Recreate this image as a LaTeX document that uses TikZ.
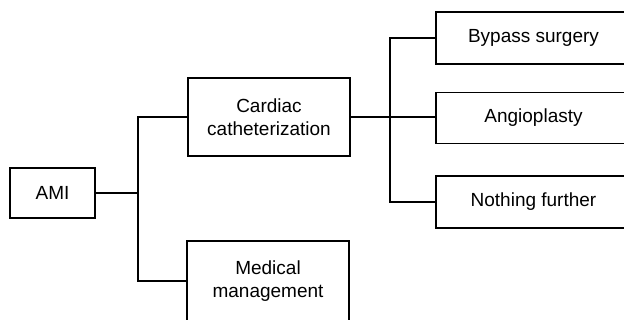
\documentclass[tikz,border=0pt]{standalone}
\usepackage{fontspec}
\setmainfont{Liberation Sans}
\begin{document}
\begin{tikzpicture}[x=1pt,y=-1pt,
  box/.style={draw=black,line width=1.8pt,inner sep=0pt,align=center,
    font=\fontsize{19}{23}\selectfont},
  conn/.style={draw=black,line width=2.6pt},
  thinconn/.style={draw=black,line width=1.5pt}]
\useasboundingbox (0,0) rectangle (624,320);
\node[box,minimum width=85pt,minimum height=50pt] (ami) at (52.5,193) {AMI};
\node[box,minimum width=162pt,minimum height=78pt] (cc) at (269,117) {Cardiac\\catheterization};
\node[box,minimum width=162pt,minimum height=80pt] (mm) at (268,281) {Medical\\management};
\node[box,minimum width=195pt,minimum height=52pt] (bs) at (533.5,38) {Bypass surgery};
\node[box,minimum width=195pt,minimum height=51pt] (an) at (533.5,118) {Angioplasty};
\node[box,minimum width=195pt,minimum height=52pt] (nf) at (533.5,202) {Nothing further};
\coordinate (j1) at (138,193);
\coordinate (j2) at (390,117);
\draw[thinconn] (ami.east) -- (j1);
\draw[conn] (cc.west) -| (j1) |- (mm.west);
\draw[conn] (cc.east) -- (cc.east -| an.west);
\draw[conn] (bs.west) -| (j2) |- (nf.west);
\end{tikzpicture}
\end{document}
